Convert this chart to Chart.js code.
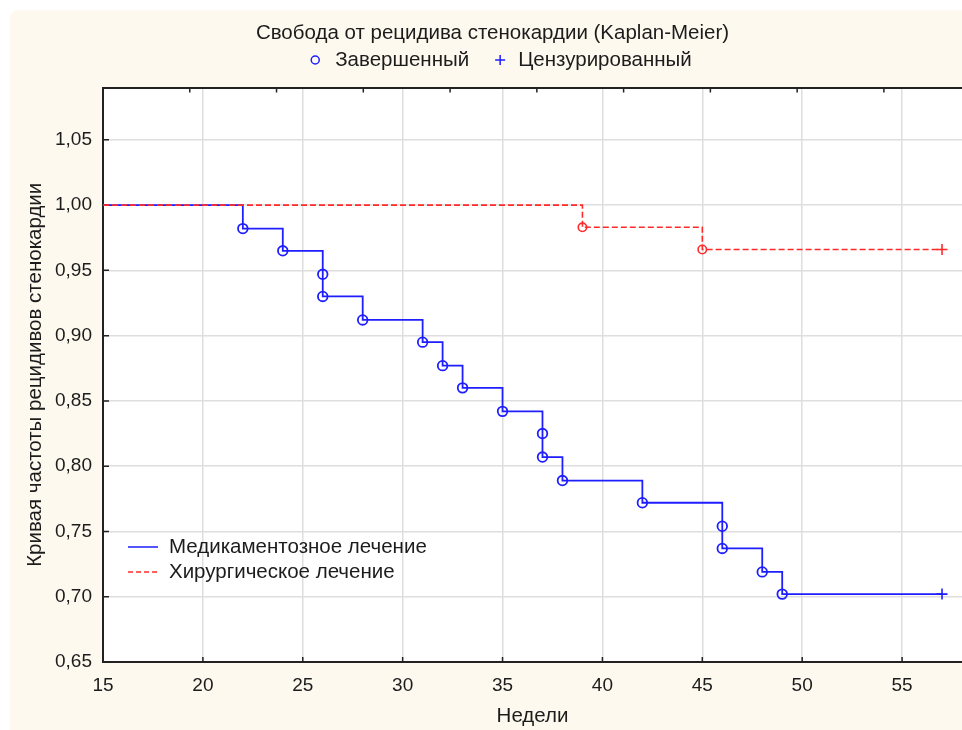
<!DOCTYPE html>
<html>
<head>
<meta charset="utf-8">
<script src="https://cdn.jsdelivr.net/npm/chart.js@4.4.1/dist/chart.umd.min.js"></script>
<style>
  html, body { margin: 0; padding: 0; background: #fff; }
  #wrap { position: relative; width: 962px; height: 730px; overflow: hidden; }
  #panel { position: absolute; left: 10px; top: 10px; right: 0; bottom: 0; background: #fef9ef; border-top-left-radius: 8px; }
  #km { position: absolute; left: 0; top: 0; }
</style>
</head>
<body>
<div id="wrap">
  <div id="panel"></div>
  <canvas id="km" width="962" height="730"></canvas>
</div>
<script>
// Kaplan-Meier curves, values
const startTime = 15;
const startSurv = 1.0;

const medEventTimes = [22, 24, 26, 26, 28, 31, 32, 33, 35, 37, 37, 38, 42, 46, 46, 48, 49];
const medEventSurv = [0.982, 0.965, 0.947, 0.930, 0.912, 0.895, 0.877, 0.860, 0.842, 0.825, 0.807, 0.789, 0.772, 0.754, 0.737, 0.719, 0.702];
const medCensorTimes = [57];
const medCensorSurv = [0.702];

const surgEventTimes = [39, 45];
const surgEventSurv = [0.983, 0.966];
const surgCensorTimes = [57];
const surgCensorSurv = [0.966];

const seriesLabels = ['Медикаментозное лечение', 'Хирургическое лечение'];
const markerLabels = ['Завершенный', 'Цензурированный'];

const xTicks = [15, 20, 25, 30, 35, 40, 45, 50, 55];
const yTicks = [0.65, 0.70, 0.75, 0.80, 0.85, 0.90, 0.95, 1.00, 1.05];
const topTicks = [1, 2, 3, 4, 5, 6, 7, 8, 9];

const medColor = '#1e1eff';
const surgColor = '#ff2b2b';
const textColor = '#1c1c1c';
const fontFam = "'Liberation Sans', Arial, sans-serif";
const textSize = 20.5;

function toPoints(xs, ys) {
    return xs.map((x, i) => ({ x: x, y: ys[i] }));
}

function stepLine(eventT, eventS, censT, censS) {
    return [{ x: startTime, y: startSurv }]
        .concat(toPoints(eventT, eventS))
        .concat(toPoints(censT, censS));
}

const plotBg = {
    id: 'plotBg',
    beforeDraw(chart) {
        const { ctx, chartArea: a } = chart;
        ctx.save();
        ctx.fillStyle = '#ffffff';
        ctx.fillRect(a.left, a.top, a.right - a.left, a.bottom - a.top);
        ctx.restore();
    }
};

// tick marks pointing into the plot, like the original
const innerTicks = {
    id: 'innerTicks',
    beforeDatasetsDraw(chart) {
        const { ctx, chartArea: a, scales } = chart;
        ctx.save();
        ctx.strokeStyle = '#222';
        ctx.lineWidth = 1.5;
        ctx.beginPath();
        xTicks.forEach(v => {
            const px = scales.x.getPixelForValue(v);
            ctx.moveTo(px, a.bottom);
            ctx.lineTo(px, a.bottom - 5);
        });
        yTicks.forEach(v => {
            const py = scales.y.getPixelForValue(v);
            ctx.moveTo(a.left, py);
            ctx.lineTo(a.left + 6, py);
        });
        topTicks.forEach(v => {
            const px = scales.x2.getPixelForValue(v);
            ctx.moveTo(px, a.top);
            ctx.lineTo(px, a.top + 5);
        });
        ctx.stroke();
        ctx.restore();
    }
};

// marker key under the title: circle = event, cross = censored
const markerKey = {
    id: 'markerKey',
    afterDraw(chart) {
        const { ctx } = chart;
        const tb = chart.titleBlock;
        const cy = 60;
        ctx.save();
        ctx.font = textSize + 'px ' + fontFam;
        ctx.textBaseline = 'middle';
        const w1 = ctx.measureText(markerLabels[0]).width;
        const w2 = ctx.measureText(markerLabels[1]).width;
        const total = 24 + w1 + 31 + 18 + w2;
        const cx = (tb.left + tb.right) / 2 + 9;
        const gx = cx - total / 2;
        ctx.strokeStyle = medColor;
        ctx.lineWidth = 1.5;
        ctx.beginPath();
        ctx.arc(gx + 4, cy, 4, 0, Math.PI * 2);
        ctx.stroke();
        const px = gx + 24 + w1 + 31;
        ctx.beginPath();
        ctx.moveTo(px - 5, cy);
        ctx.lineTo(px + 5, cy);
        ctx.moveTo(px, cy - 5);
        ctx.lineTo(px, cy + 5);
        ctx.stroke();
        ctx.fillStyle = textColor;
        ctx.fillText(markerLabels[0], gx + 24, cy);
        ctx.fillText(markerLabels[1], px + 18, cy);
        ctx.restore();
    }
};

// series key inside the plot, lower left
const seriesKey = {
    id: 'seriesKey',
    afterDatasetsDraw(chart) {
        const { ctx, chartArea: a } = chart;
        const rows = [
            { label: seriesLabels[0], color: medColor, dash: [] },
            { label: seriesLabels[1], color: surgColor, dash: [5, 3] }
        ];
        ctx.save();
        ctx.font = textSize + 'px ' + fontFam;
        ctx.textBaseline = 'middle';
        rows.forEach((r, i) => {
            const yy = a.bottom - 115 + i * 25;
            ctx.strokeStyle = r.color;
            ctx.lineWidth = 1.5;
            ctx.setLineDash(r.dash);
            ctx.beginPath();
            ctx.moveTo(a.left + 25, yy);
            ctx.lineTo(a.left + 55, yy);
            ctx.stroke();
            ctx.setLineDash([]);
            ctx.fillStyle = textColor;
            ctx.fillText(r.label, a.left + 66, yy);
        });
        ctx.restore();
    }
};

const ctx = document.getElementById('km').getContext('2d');

new Chart(ctx, {
    type: 'line',
    data: {
        datasets: [
            {
                label: seriesLabels[1],
                data: stepLine(surgEventTimes, surgEventSurv, surgCensorTimes, surgCensorSurv),
                stepped: true,
                borderColor: surgColor,
                borderWidth: 1.6,
                borderDash: [6, 3],
                pointRadius: 0,
                fill: false,
                order: 1
            },
            {
                type: 'scatter',
                label: 'surg events',
                data: toPoints(surgEventTimes, surgEventSurv),
                pointStyle: 'circle',
                pointRadius: 4.2,
                borderColor: surgColor,
                backgroundColor: 'rgba(0,0,0,0)',
                borderWidth: 1.6,
                order: 0
            },
            {
                type: 'scatter',
                label: 'surg censored',
                data: toPoints(surgCensorTimes, surgCensorSurv),
                pointStyle: 'cross',
                pointRadius: 5.5,
                borderColor: surgColor,
                borderWidth: 1.6,
                order: 0
            },
            {
                label: seriesLabels[0],
                data: stepLine(medEventTimes, medEventSurv, medCensorTimes, medCensorSurv),
                stepped: true,
                borderColor: medColor,
                borderWidth: 1.8,
                pointRadius: 0,
                fill: false,
                order: 2
            },
            {
                type: 'scatter',
                label: 'med events',
                data: toPoints(medEventTimes, medEventSurv),
                pointStyle: 'circle',
                pointRadius: 4.8,
                borderColor: medColor,
                backgroundColor: 'rgba(0,0,0,0)',
                borderWidth: 1.8,
                order: 0
            },
            {
                type: 'scatter',
                label: 'med censored',
                data: toPoints(medCensorTimes, medCensorSurv),
                pointStyle: 'cross',
                pointRadius: 5.5,
                borderColor: medColor,
                borderWidth: 1.6,
                order: 0
            }
        ]
    },
    options: {
        responsive: false,
        animation: false,
        events: [],
        layout: { autoPadding: false, padding: { left: 23, right: 0, top: 0, bottom: 0 } },
        plugins: {
            legend: { display: false },
            tooltip: { enabled: false },
            title: {
                display: true,
                text: 'Свобода от рецидива стенокардии (Kaplan-Meier)',
                color: textColor,
                font: { family: fontFam, size: textSize, weight: 'normal' },
                padding: { top: 21, bottom: 35 }
            }
        },
        scales: {
            x: {
                type: 'linear',
                min: 15,
                max: 58,
                afterBuildTicks: s => { s.ticks = xTicks.map(v => ({ value: v })); },
                afterFit: s => { s.height = 68; s.paddingLeft = 0; s.paddingRight = 0; },
                ticks: {
                    color: textColor,
                    padding: 12,
                    font: { family: fontFam, size: 19 }
                },
                grid: { color: '#dedede', lineWidth: 1.5, drawTicks: false },
                border: { display: true, color: '#222', width: 2 },
                title: {
                    display: true,
                    text: 'Недели',
                    color: textColor,
                    font: { family: fontFam, size: textSize },
                    padding: { top: 0, bottom: 1 }
                }
            },
            x2: {
                type: 'linear',
                position: 'top',
                min: 0,
                max: 9.9,
                afterFit: s => { s.height = 7; s.paddingLeft = 0; s.paddingRight = 0; },
                ticks: { display: false },
                grid: { drawOnChartArea: false, drawTicks: false },
                border: { display: true, color: '#222', width: 2 }
            },
            y: {
                type: 'linear',
                min: 0.65,
                max: 1.09,
                afterBuildTicks: s => { s.ticks = yTicks.map(v => ({ value: v })); },
                afterFit: s => { s.width = 80; },
                ticks: {
                    color: textColor,
                    padding: 11,
                    font: { family: fontFam, size: 19 },
                    callback: v => v.toFixed(2).replace('.', ',')
                },
                grid: { color: '#dedede', lineWidth: 1.5, drawTicks: false },
                border: { display: true, color: '#222', width: 2 },
                title: {
                    display: true,
                    text: 'Кривая частоты рецидивов стенокардии',
                    color: textColor,
                    font: { family: fontFam, size: textSize },
                    padding: { top: 0, bottom: 0 }
                }
            }
        }
    },
    plugins: [plotBg, innerTicks, markerKey, seriesKey]
});
</script>
</body>
</html>
